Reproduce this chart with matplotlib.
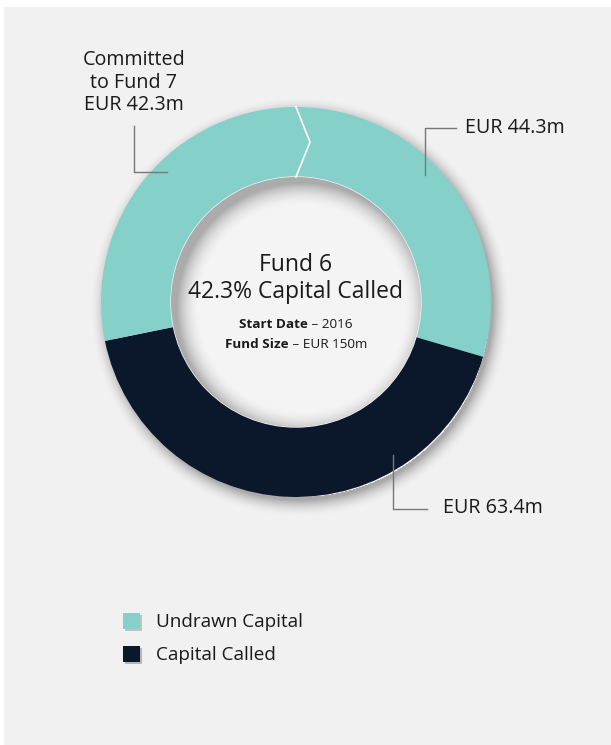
import numpy as np
import matplotlib.pyplot as plt
from matplotlib.patches import Rectangle, Circle, Patch
import matplotlib.patheffects as pe

plt.rcParams['font.family'] = ['Open Sans', 'DejaVu Sans']

# Fund 6 breakdown (EUR m)
slice_labels = ['EUR 44.3m', 'EUR 63.4m', 'Committed\nto Fund 7\nEUR 42.3m']
slice_values = [44.3, 63.4, 42.3]
slice_colors = ['#86d0ca', '#0b182b', '#86d0ca']
legend_labels = ['Undrawn Capital', 'Capital Called']
legend_colors = ['#86d0ca', '#0b182b']
fund_name = 'Fund 6'
start_date = '2016'
fund_size = 'EUR 150m'

W, H = 611, 745
cx, cy = 296, H - 302
R, r_in = 195, 125
text_col = '#1a1a1a'
line_col = '#777777'

fig = plt.figure(figsize=(W / 100, H / 100), dpi=100)
fig.patch.set_facecolor('white')
ax = fig.add_axes([0, 0, 1, 1])

# grey panel
ax.add_patch(Rectangle((4, 0), W - 4, H - 7, color='#f1f1f1', zorder=0))

# soft drop shadow behind the ring
xs = np.arange(W) + 0.5
ys = np.arange(H) + 0.5
X, Y = np.meshgrid(xs, ys)
d = np.hypot(X - (cx + 4), Y - (cy - 5))
a = 0.30 * np.clip((R + 16 - d) / 18, 0, 1) ** 2
a[d < R - 5] = 0
shadow = np.zeros((H, W, 4))
shadow[..., 3] = a
ax.imshow(shadow, extent=(0, W, 0, H), origin='lower', zorder=1, interpolation='bilinear')

# the ring
ax.pie(slice_values, colors=slice_colors, startangle=90, counterclock=False,
       radius=R, center=(cx, cy),
       wedgeprops=dict(width=R - r_in, linewidth=0), normalize=True)
for w in ax.patches[-3:]:
    w.set_zorder(3)

# hole with inner shadow
hole = Circle((cx, cy), r_in, color='#f4f4f4', zorder=3)
ax.add_patch(hole)
d2 = np.hypot(X - (cx + 6), Y - (cy - 6))
a2 = 0.30 * np.clip(1 - (r_in - d2) / 24, 0, 1) ** 2
inner = np.zeros((H, W, 4))
inner[..., 3] = a2
im = ax.imshow(inner, extent=(0, W, 0, H), origin='lower', zorder=4, interpolation='bilinear')
im.set_clip_path(hole)

# white chevron between the two undrawn slices
ax.plot([cx, cx + 14, cx], [cy + R, cy + (R + r_in) / 2, cy + r_in],
        color='white', lw=1.2, zorder=5)

# leader lines
def px(pts):
    return [p[0] for p in pts], [H - p[1] for p in pts]

for pts in [[(134, 126), (134, 172), (167, 172)],
            [(456, 128), (425, 128), (425, 175)],
            [(393, 455), (393, 509), (427, 509)]]:
    lx, ly = px(pts)
    ax.plot(lx, ly, color=line_col, lw=1, zorder=5)

ax.text(134, H - 82.5, slice_labels[2], ha='center', va='center', fontsize=14.2,
        color=text_col, linespacing=1.19, zorder=6)
ax.text(465, H - 128, slice_labels[0], ha='left', va='center', fontsize=14.2,
        color=text_col, zorder=6)
ax.text(443, H - 508, slice_labels[1], ha='left', va='center', fontsize=14.2,
        color=text_col, zorder=6)

# centre text
called = slice_values[1] / sum(slice_values) * 100
ax.text(cx, H - 265, fund_name, ha='center', va='center', fontsize=16.5,
        color=text_col, zorder=6)
ax.text(cx, H - 292, f'{called:.1f}% Capital Called', ha='center', va='center',
        fontsize=16.5, color=text_col, zorder=6)

renderer = fig.canvas.get_renderer()
for y, bold, rest in [(325, 'Start Date', ' \u2013 ' + start_date),
                      (345, 'Fund Size', ' \u2013 ' + fund_size)]:
    t1 = ax.text(0, H - y, bold, ha='left', va='center', fontsize=9.7,
                 fontweight='bold', color=text_col, zorder=6)
    t2 = ax.text(0, H - y, rest, ha='left', va='center', fontsize=9.7,
                 color=text_col, zorder=6)
    w1 = t1.get_window_extent(renderer).width
    w2 = t2.get_window_extent(renderer).width
    x0 = cx - (w1 + w2) / 2
    t1.set_x(x0)
    t2.set_x(x0 + w1)

# legend
handles = [Patch(facecolor=c, edgecolor='none') for c in legend_colors]
leg = ax.legend(handles, legend_labels, loc='upper left',
                bbox_to_anchor=(123, H - 613), bbox_transform=ax.transData,
                frameon=False, fontsize=13.6, handlelength=0.9, handleheight=0.9,
                handletextpad=0.85, labelspacing=0.78, borderpad=0, borderaxespad=0,
                labelcolor=text_col)
for p in leg.get_patches():
    p.set_path_effects([pe.SimplePatchShadow(offset=(1.5, -1.5), alpha=0.25),
                        pe.Normal()])

ax.set_xlim(0, W)
ax.set_ylim(0, H)
ax.set_aspect('auto')
ax.axis('off')

fig.savefig('out.png', dpi=100, facecolor='white')
